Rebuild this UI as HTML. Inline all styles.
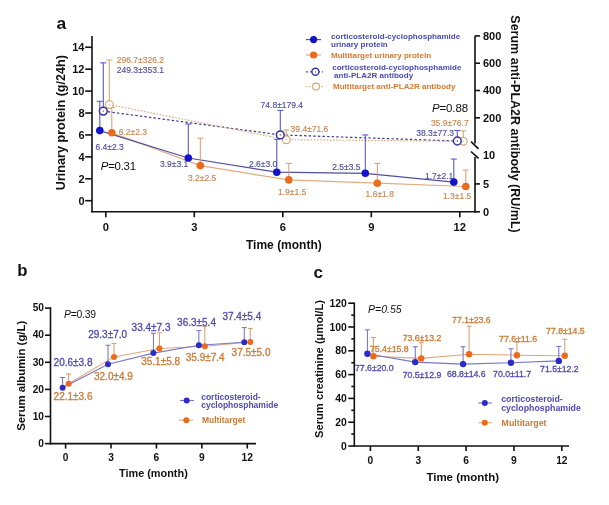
<!DOCTYPE html>
<html><head><meta charset="utf-8"><style>
html,body{margin:0;padding:0;background:#fff;}
svg{display:block;font-family:"Liberation Sans", sans-serif;will-change:transform;}
</style></head><body>
<svg width="609" height="505" viewBox="0 0 609 505">
<rect width="609" height="505" fill="#fff"/>
<text x="56.5" y="28.6" font-size="17.4" fill="#111" text-anchor="start" font-weight="bold" font-style="normal" >a</text>
<line x1="92" y1="36.0" x2="92" y2="212.5" stroke="#111" stroke-width="1.6" />
<line x1="91.2" y1="211.7" x2="475.8" y2="211.7" stroke="#111" stroke-width="1.6" />
<line x1="85.2" y1="200.7" x2="92" y2="200.7" stroke="#111" stroke-width="1.6" />
<text x="84.5" y="204.6" font-size="11" fill="#111" text-anchor="end" font-weight="bold" font-style="normal" >0</text>
<line x1="85.2" y1="178.77999999999997" x2="92" y2="178.77999999999997" stroke="#111" stroke-width="1.6" />
<text x="84.5" y="182.67999999999998" font-size="11" fill="#111" text-anchor="end" font-weight="bold" font-style="normal" >2</text>
<line x1="85.2" y1="156.85999999999999" x2="92" y2="156.85999999999999" stroke="#111" stroke-width="1.6" />
<text x="84.5" y="160.76" font-size="11" fill="#111" text-anchor="end" font-weight="bold" font-style="normal" >4</text>
<line x1="85.2" y1="134.94" x2="92" y2="134.94" stroke="#111" stroke-width="1.6" />
<text x="84.5" y="138.84" font-size="11" fill="#111" text-anchor="end" font-weight="bold" font-style="normal" >6</text>
<line x1="85.2" y1="113.01999999999998" x2="92" y2="113.01999999999998" stroke="#111" stroke-width="1.6" />
<text x="84.5" y="116.91999999999999" font-size="11" fill="#111" text-anchor="end" font-weight="bold" font-style="normal" >8</text>
<line x1="85.2" y1="91.09999999999998" x2="92" y2="91.09999999999998" stroke="#111" stroke-width="1.6" />
<text x="84.5" y="94.99999999999999" font-size="11" fill="#111" text-anchor="end" font-weight="bold" font-style="normal" >10</text>
<line x1="85.2" y1="69.17999999999998" x2="92" y2="69.17999999999998" stroke="#111" stroke-width="1.6" />
<text x="84.5" y="73.07999999999998" font-size="11" fill="#111" text-anchor="end" font-weight="bold" font-style="normal" >12</text>
<line x1="85.2" y1="47.25999999999999" x2="92" y2="47.25999999999999" stroke="#111" stroke-width="1.6" />
<text x="84.5" y="51.15999999999999" font-size="11" fill="#111" text-anchor="end" font-weight="bold" font-style="normal" >14</text>
<line x1="105.8" y1="211.7" x2="105.8" y2="217.2" stroke="#111" stroke-width="1.6" />
<text x="105.8" y="231.3" font-size="11.2" fill="#111" text-anchor="middle" font-weight="bold" font-style="normal" >0</text>
<line x1="194.3" y1="211.7" x2="194.3" y2="217.2" stroke="#111" stroke-width="1.6" />
<text x="194.3" y="231.3" font-size="11.2" fill="#111" text-anchor="middle" font-weight="bold" font-style="normal" >3</text>
<line x1="282.8" y1="211.7" x2="282.8" y2="217.2" stroke="#111" stroke-width="1.6" />
<text x="282.8" y="231.3" font-size="11.2" fill="#111" text-anchor="middle" font-weight="bold" font-style="normal" >6</text>
<line x1="371.3" y1="211.7" x2="371.3" y2="217.2" stroke="#111" stroke-width="1.6" />
<text x="371.3" y="231.3" font-size="11.2" fill="#111" text-anchor="middle" font-weight="bold" font-style="normal" >9</text>
<line x1="459.8" y1="211.7" x2="459.8" y2="217.2" stroke="#111" stroke-width="1.6" />
<text x="459.8" y="231.3" font-size="11.2" fill="#111" text-anchor="middle" font-weight="bold" font-style="normal" >12</text>
<text x="283.9" y="249.0" font-size="12.0" fill="#111" text-anchor="middle" font-weight="bold" font-style="normal" >Time (month)</text>
<line x1="475" y1="35.8" x2="475" y2="143.5" stroke="#111" stroke-width="1.6" />
<line x1="475" y1="157.0" x2="475" y2="212.5" stroke="#111" stroke-width="1.6" />
<line x1="475" y1="35.89999999999999" x2="480" y2="35.89999999999999" stroke="#111" stroke-width="1.6" />
<text x="483" y="39.79999999999999" font-size="11" fill="#111" text-anchor="start" font-weight="bold" font-style="normal" >800</text>
<line x1="475" y1="63.19999999999999" x2="480" y2="63.19999999999999" stroke="#111" stroke-width="1.6" />
<text x="483" y="67.1" font-size="11" fill="#111" text-anchor="start" font-weight="bold" font-style="normal" >600</text>
<line x1="475" y1="90.5" x2="480" y2="90.5" stroke="#111" stroke-width="1.6" />
<text x="483" y="94.4" font-size="11" fill="#111" text-anchor="start" font-weight="bold" font-style="normal" >400</text>
<line x1="475" y1="117.8" x2="480" y2="117.8" stroke="#111" stroke-width="1.6" />
<text x="483" y="121.7" font-size="11" fill="#111" text-anchor="start" font-weight="bold" font-style="normal" >200</text>
<line x1="475" y1="183.9" x2="480" y2="183.9" stroke="#111" stroke-width="1.6" />
<text x="483" y="187.8" font-size="11" fill="#111" text-anchor="start" font-weight="bold" font-style="normal" >5</text>
<line x1="475" y1="211.8" x2="480" y2="211.8" stroke="#111" stroke-width="1.6" />
<text x="483" y="215.70000000000002" font-size="11" fill="#111" text-anchor="start" font-weight="bold" font-style="normal" >0</text>
<text x="483" y="159.4" font-size="11" fill="#111" text-anchor="start" font-weight="bold" font-style="normal" >10</text>
<line x1="471" y1="141.7" x2="478.5" y2="148.9" stroke="#111" stroke-width="1.6" />
<line x1="471" y1="151.5" x2="478.5" y2="158.4" stroke="#111" stroke-width="1.6" />
<text transform="translate(65.2,122.6) rotate(-90)" font-size="12.6" font-weight="bold" text-anchor="middle" fill="#111">Urinary protein (g/24h)</text>
<text transform="translate(511.1,124) rotate(90)" font-size="12.5" font-weight="bold" text-anchor="middle" fill="#111">Serum anti-PLA2R antibody (RU/mL)</text>
<polyline points="103.3,111.1 280.3,134.9 457.3,141.0" fill="none" stroke="#3a3a92" stroke-width="1.2" stroke-dasharray="2.4,2.2"/>
<polyline points="109.3,104.6 286.3,139.7 463.3,141.3" fill="none" stroke="#d8a870" stroke-width="1.1" stroke-dasharray="1.6,1.6"/>
<line x1="109.3" y1="104.60045" x2="109.3" y2="60.07414999999999" stroke="#d8a870" stroke-width="1.1" />
<line x1="106.3" y1="60.07414999999999" x2="112.3" y2="60.07414999999999" stroke="#d8a870" stroke-width="1.1" />
<line x1="286.3" y1="139.7219" x2="286.3" y2="129.9485" stroke="#d8a870" stroke-width="1.1" />
<line x1="283.3" y1="129.9485" x2="289.3" y2="129.9485" stroke="#d8a870" stroke-width="1.1" />
<line x1="463.3" y1="141.29964999999999" x2="463.3" y2="130.8301" stroke="#d8a870" stroke-width="1.1" />
<line x1="460.3" y1="130.8301" x2="466.3" y2="130.8301" stroke="#d8a870" stroke-width="1.1" />
<line x1="103.3" y1="111.07055" x2="103.3" y2="62.87239999999997" stroke="#5a5ac8" stroke-width="1.1" />
<line x1="100.3" y1="62.87239999999997" x2="106.3" y2="62.87239999999997" stroke="#5a5ac8" stroke-width="1.1" />
<line x1="280.3" y1="134.88979999999998" x2="280.3" y2="110.40169999999999" stroke="#5a5ac8" stroke-width="1.1" />
<line x1="277.3" y1="110.40169999999999" x2="283.3" y2="110.40169999999999" stroke="#5a5ac8" stroke-width="1.1" />
<line x1="457.3" y1="140.97205" x2="457.3" y2="130.42059999999998" stroke="#5a5ac8" stroke-width="1.1" />
<line x1="454.3" y1="130.42059999999998" x2="460.3" y2="130.42059999999998" stroke="#5a5ac8" stroke-width="1.1" />
<polyline points="111.8,132.7 200.3,165.6 288.8,179.9 377.3,183.2 465.8,186.5" fill="none" stroke="#e0ac84" stroke-width="1.2" />
<polyline points="99.8,130.6 188.3,158.0 276.8,172.2 365.3,173.3 453.8,182.1" fill="none" stroke="#50509c" stroke-width="1.2" />
<line x1="111.8" y1="132.748" x2="111.8" y2="107.53999999999998" stroke="#dc986e" stroke-width="1.0" />
<line x1="108.8" y1="107.53999999999998" x2="114.8" y2="107.53999999999998" stroke="#dc986e" stroke-width="1.0" />
<line x1="200.3" y1="165.628" x2="200.3" y2="138.22799999999998" stroke="#dc986e" stroke-width="1.0" />
<line x1="197.3" y1="138.22799999999998" x2="203.3" y2="138.22799999999998" stroke="#dc986e" stroke-width="1.0" />
<line x1="288.8" y1="179.87599999999998" x2="288.8" y2="163.43599999999998" stroke="#dc986e" stroke-width="1.0" />
<line x1="285.8" y1="163.43599999999998" x2="291.8" y2="163.43599999999998" stroke="#dc986e" stroke-width="1.0" />
<line x1="377.3" y1="183.164" x2="377.3" y2="163.43599999999998" stroke="#dc986e" stroke-width="1.0" />
<line x1="374.3" y1="163.43599999999998" x2="380.3" y2="163.43599999999998" stroke="#dc986e" stroke-width="1.0" />
<line x1="465.8" y1="186.452" x2="465.8" y2="170.012" stroke="#dc986e" stroke-width="1.0" />
<line x1="462.8" y1="170.012" x2="468.8" y2="170.012" stroke="#dc986e" stroke-width="1.0" />
<line x1="99.8" y1="130.55599999999998" x2="99.8" y2="101.3" stroke="#5a5ac8" stroke-width="1.1" />
<line x1="96.8" y1="101.3" x2="102.8" y2="101.3" stroke="#5a5ac8" stroke-width="1.1" />
<line x1="188.3" y1="157.956" x2="188.3" y2="123.97999999999999" stroke="#5a5ac8" stroke-width="1.1" />
<line x1="185.3" y1="123.97999999999999" x2="191.3" y2="123.97999999999999" stroke="#5a5ac8" stroke-width="1.1" />
<line x1="276.8" y1="172.20399999999998" x2="276.8" y2="139.32399999999998" stroke="#5a5ac8" stroke-width="1.1" />
<line x1="273.8" y1="139.32399999999998" x2="279.8" y2="139.32399999999998" stroke="#5a5ac8" stroke-width="1.1" />
<line x1="365.3" y1="173.29999999999998" x2="365.3" y2="134.94" stroke="#5a5ac8" stroke-width="1.1" />
<line x1="362.3" y1="134.94" x2="368.3" y2="134.94" stroke="#5a5ac8" stroke-width="1.1" />
<line x1="453.8" y1="182.06799999999998" x2="453.8" y2="159.052" stroke="#5a5ac8" stroke-width="1.1" />
<line x1="450.8" y1="159.052" x2="456.8" y2="159.052" stroke="#5a5ac8" stroke-width="1.1" />
<circle cx="99.8" cy="130.6" r="3.8" fill="#1212cc" stroke="none" stroke-width="0"/>
<circle cx="188.3" cy="158.0" r="3.8" fill="#1212cc" stroke="none" stroke-width="0"/>
<circle cx="276.8" cy="172.2" r="3.8" fill="#1212cc" stroke="none" stroke-width="0"/>
<circle cx="365.3" cy="173.3" r="3.8" fill="#1212cc" stroke="none" stroke-width="0"/>
<circle cx="453.8" cy="182.1" r="3.8" fill="#1212cc" stroke="none" stroke-width="0"/>
<circle cx="111.8" cy="132.7" r="3.8" fill="#ec6a1c" stroke="none" stroke-width="0"/>
<circle cx="200.3" cy="165.6" r="3.8" fill="#ec6a1c" stroke="none" stroke-width="0"/>
<circle cx="288.8" cy="179.9" r="3.8" fill="#ec6a1c" stroke="none" stroke-width="0"/>
<circle cx="377.3" cy="183.2" r="3.8" fill="#ec6a1c" stroke="none" stroke-width="0"/>
<circle cx="465.8" cy="186.5" r="3.8" fill="#ec6a1c" stroke="none" stroke-width="0"/>
<circle cx="109.3" cy="104.6" r="3.9" fill="#fff" stroke="#d8a870" stroke-width="1.2"/>
<circle cx="109.3" cy="104.6" r="0.6" fill="#d8a870" stroke="none" stroke-width="0"/>
<circle cx="286.3" cy="139.7" r="3.9" fill="#fff" stroke="#d8a870" stroke-width="1.2"/>
<circle cx="286.3" cy="139.7" r="0.6" fill="#d8a870" stroke="none" stroke-width="0"/>
<circle cx="463.3" cy="141.3" r="3.9" fill="#fff" stroke="#d8a870" stroke-width="1.2"/>
<circle cx="463.3" cy="141.3" r="0.6" fill="#d8a870" stroke="none" stroke-width="0"/>
<circle cx="103.3" cy="111.1" r="3.9" fill="#fff" stroke="#3434a0" stroke-width="1.5"/>
<circle cx="103.3" cy="111.1" r="0.7" fill="#3434a0" stroke="none" stroke-width="0"/>
<circle cx="280.3" cy="134.9" r="3.9" fill="#fff" stroke="#3434a0" stroke-width="1.5"/>
<circle cx="280.3" cy="134.9" r="0.7" fill="#3434a0" stroke="none" stroke-width="0"/>
<circle cx="457.3" cy="141.0" r="3.9" fill="#fff" stroke="#3434a0" stroke-width="1.5"/>
<circle cx="457.3" cy="141.0" r="0.7" fill="#3434a0" stroke="none" stroke-width="0"/>
<text x="116.8" y="63.46" font-size="8.5" fill="#cc8650" text-anchor="start" font-weight="normal" font-style="normal" stroke="#cc8650" stroke-width="0.15">296.7±326.2</text>
<text x="116.8" y="73.36" font-size="8.5" fill="#50509e" text-anchor="start" font-weight="normal" font-style="normal" stroke="#50509e" stroke-width="0.15">249.3±353.1</text>
<text x="95.5" y="150.06" font-size="8.5" fill="#50509e" text-anchor="start" font-weight="normal" font-style="normal" stroke="#50509e" stroke-width="0.15">6.4±2.3</text>
<text x="118.7" y="135.26" font-size="8.5" fill="#cc8650" text-anchor="start" font-weight="normal" font-style="normal" stroke="#cc8650" stroke-width="0.15">6.2±2.3</text>
<text x="160" y="166.96" font-size="8.5" fill="#50509e" text-anchor="start" font-weight="normal" font-style="normal" stroke="#50509e" stroke-width="0.15">3.9±3.1</text>
<text x="188" y="180.76" font-size="8.5" fill="#cc8650" text-anchor="start" font-weight="normal" font-style="normal" stroke="#cc8650" stroke-width="0.15">3.2±2.5</text>
<text x="249" y="166.96" font-size="8.5" fill="#50509e" text-anchor="start" font-weight="normal" font-style="normal" stroke="#50509e" stroke-width="0.15">2.6±3.0</text>
<text x="278" y="194.66" font-size="8.5" fill="#cc8650" text-anchor="start" font-weight="normal" font-style="normal" stroke="#cc8650" stroke-width="0.15">1.9±1.5</text>
<text x="260.6" y="108.46000000000001" font-size="8.5" fill="#50509e" text-anchor="start" font-weight="normal" font-style="normal" stroke="#50509e" stroke-width="0.15">74.8±179.4</text>
<text x="290.6" y="132.26" font-size="8.5" fill="#cc8650" text-anchor="start" font-weight="normal" font-style="normal" stroke="#cc8650" stroke-width="0.15">39.4±71.6</text>
<text x="332.2" y="170.36" font-size="8.5" fill="#50509e" text-anchor="start" font-weight="normal" font-style="normal" stroke="#50509e" stroke-width="0.15">2.5±3.5</text>
<text x="365.6" y="196.66" font-size="8.5" fill="#cc8650" text-anchor="start" font-weight="normal" font-style="normal" stroke="#cc8650" stroke-width="0.15">1.6±1.8</text>
<text x="430.9" y="125.66" font-size="8.5" fill="#cc8650" text-anchor="start" font-weight="normal" font-style="normal" stroke="#cc8650" stroke-width="0.15">35.9±76.7</text>
<text x="416.3" y="135.96" font-size="8.5" fill="#50509e" text-anchor="start" font-weight="normal" font-style="normal" stroke="#50509e" stroke-width="0.15">38.3±77.3</text>
<text x="425" y="178.66" font-size="8.5" fill="#50509e" text-anchor="start" font-weight="normal" font-style="normal" stroke="#50509e" stroke-width="0.15">1.7±2.1</text>
<text x="443" y="198.66" font-size="8.5" fill="#cc8650" text-anchor="start" font-weight="normal" font-style="normal" stroke="#cc8650" stroke-width="0.15">1.3±1.5</text>
<text x="100.8" y="170.4" font-size="11.4" letter-spacing="-0.25" fill="#111"><tspan font-style="italic">P</tspan>=0.31</text>
<text x="432.0" y="112.0" font-size="11.5" letter-spacing="-0.15" fill="#111"><tspan font-style="italic">P</tspan>=0.88</text>
<line x1="306" y1="39.6" x2="321" y2="39.6" stroke="#50509c" stroke-width="1.2" />
<circle cx="313.6" cy="39.6" r="3.6" fill="#1212cc" stroke="none" stroke-width="0"/>
<line x1="306" y1="55" x2="321" y2="55" stroke="#e0ac84" stroke-width="1.2" />
<circle cx="313.6" cy="55.0" r="3.6" fill="#ec6a1c" stroke="none" stroke-width="0"/>
<line x1="306" y1="71.8" x2="323" y2="71.8" stroke="#50509c" stroke-width="1.2" stroke-dasharray="2,2"/>
<circle cx="315.4" cy="71.8" r="3.5" fill="#fff" stroke="#3434a0" stroke-width="1.4"/>
<circle cx="315.4" cy="71.8" r="0.6" fill="#3434a0" stroke="none" stroke-width="0"/>
<line x1="306" y1="86.6" x2="323" y2="86.6" stroke="#d8a870" stroke-width="1.0" stroke-dasharray="1.5,1.5"/>
<circle cx="316.1" cy="86.6" r="3.5" fill="#fff" stroke="#d8a870" stroke-width="1.1"/>
<text x="331" y="38.798" font-size="8.05" fill="#4a4ab8" text-anchor="start" font-weight="bold" font-style="normal" >corticosteroid-cyclophosphamide</text>
<text x="331" y="46.698" font-size="8.05" fill="#4a4ab8" text-anchor="start" font-weight="bold" font-style="normal" >urinary protein</text>
<text x="331" y="57.898" font-size="8.05" fill="#d87a30" text-anchor="start" font-weight="bold" font-style="normal" >Multitarget urinary protein</text>
<text x="332.2" y="70.198" font-size="8.05" fill="#4a4ab8" text-anchor="start" font-weight="bold" font-style="normal" >corticosteroid-cyclophosphamide</text>
<text x="334" y="77.698" font-size="8.05" fill="#4a4ab8" text-anchor="start" font-weight="bold" font-style="normal" >anti-PLA2R antibody</text>
<text x="333" y="89.49799999999999" font-size="8.05" fill="#d87a30" text-anchor="start" font-weight="bold" font-style="normal" >Multitarget anti-PLA2R antibody</text>
<text x="17.2" y="275.8" font-size="16.8" fill="#111" text-anchor="start" font-weight="bold" font-style="normal" >b</text>
<line x1="50.5" y1="307.2" x2="50.5" y2="444.40000000000003" stroke="#111" stroke-width="1.6" />
<line x1="49.7" y1="443.6" x2="256" y2="443.6" stroke="#111" stroke-width="1.6" />
<line x1="45.0" y1="443.6" x2="50.5" y2="443.6" stroke="#111" stroke-width="1.6" />
<text x="44" y="446.8" font-size="10.2" fill="#111" text-anchor="end" font-weight="bold" font-style="normal" >0</text>
<line x1="45.0" y1="416.5" x2="50.5" y2="416.5" stroke="#111" stroke-width="1.6" />
<text x="44" y="419.7" font-size="10.2" fill="#111" text-anchor="end" font-weight="bold" font-style="normal" >10</text>
<line x1="45.0" y1="389.40000000000003" x2="50.5" y2="389.40000000000003" stroke="#111" stroke-width="1.6" />
<text x="44" y="392.6" font-size="10.2" fill="#111" text-anchor="end" font-weight="bold" font-style="normal" >20</text>
<line x1="45.0" y1="362.3" x2="50.5" y2="362.3" stroke="#111" stroke-width="1.6" />
<text x="44" y="365.5" font-size="10.2" fill="#111" text-anchor="end" font-weight="bold" font-style="normal" >30</text>
<line x1="45.0" y1="335.20000000000005" x2="50.5" y2="335.20000000000005" stroke="#111" stroke-width="1.6" />
<text x="44" y="338.40000000000003" font-size="10.2" fill="#111" text-anchor="end" font-weight="bold" font-style="normal" >40</text>
<line x1="45.0" y1="308.1" x2="50.5" y2="308.1" stroke="#111" stroke-width="1.6" />
<text x="44" y="311.3" font-size="10.2" fill="#111" text-anchor="end" font-weight="bold" font-style="normal" >50</text>
<line x1="65.6" y1="443.6" x2="65.6" y2="448.6" stroke="#111" stroke-width="1.6" />
<text x="65.6" y="461.3" font-size="10.2" fill="#111" text-anchor="middle" font-weight="bold" font-style="normal" >0</text>
<line x1="111.02" y1="443.6" x2="111.02" y2="448.6" stroke="#111" stroke-width="1.6" />
<text x="111.02" y="461.3" font-size="10.2" fill="#111" text-anchor="middle" font-weight="bold" font-style="normal" >3</text>
<line x1="156.44" y1="443.6" x2="156.44" y2="448.6" stroke="#111" stroke-width="1.6" />
<text x="156.44" y="461.3" font-size="10.2" fill="#111" text-anchor="middle" font-weight="bold" font-style="normal" >6</text>
<line x1="201.85999999999999" y1="443.6" x2="201.85999999999999" y2="448.6" stroke="#111" stroke-width="1.6" />
<text x="201.85999999999999" y="461.3" font-size="10.2" fill="#111" text-anchor="middle" font-weight="bold" font-style="normal" >9</text>
<line x1="247.28" y1="443.6" x2="247.28" y2="448.6" stroke="#111" stroke-width="1.6" />
<text x="247.28" y="461.3" font-size="10.2" fill="#111" text-anchor="middle" font-weight="bold" font-style="normal" >12</text>
<text x="153.4" y="477.4" font-size="10.9" fill="#111" text-anchor="middle" font-weight="bold" font-style="normal" >Time (month)</text>
<text transform="translate(25.4,375.8) rotate(-90)" font-size="11.4" font-weight="bold" text-anchor="middle" fill="#111">Serum albumin (g/L)</text>
<polyline points="68.6,383.7 114.0,356.9 159.4,348.5 204.9,346.3 250.3,342.0" fill="none" stroke="#e0a878" stroke-width="1.1" />
<polyline points="62.6,387.8 108.0,364.2 153.4,353.1 198.9,345.2 244.3,342.2" fill="none" stroke="#7878c4" stroke-width="1.1" />
<line x1="68.6" y1="383.709" x2="68.6" y2="373.95300000000003" stroke="#d89a68" stroke-width="1.0" />
<line x1="66.1" y1="373.95300000000003" x2="71.1" y2="373.95300000000003" stroke="#d89a68" stroke-width="1.0" />
<line x1="114.02" y1="356.88" x2="114.02" y2="343.601" stroke="#d89a68" stroke-width="1.0" />
<line x1="111.52" y1="343.601" x2="116.52" y2="343.601" stroke="#d89a68" stroke-width="1.0" />
<line x1="159.44" y1="348.47900000000004" x2="159.44" y2="332.761" stroke="#d89a68" stroke-width="1.0" />
<line x1="156.94" y1="332.761" x2="161.94" y2="332.761" stroke="#d89a68" stroke-width="1.0" />
<line x1="204.85999999999999" y1="346.31100000000004" x2="204.85999999999999" y2="326.25700000000006" stroke="#d89a68" stroke-width="1.0" />
<line x1="202.35999999999999" y1="326.25700000000006" x2="207.35999999999999" y2="326.25700000000006" stroke="#d89a68" stroke-width="1.0" />
<line x1="250.28" y1="341.975" x2="250.28" y2="328.425" stroke="#d89a68" stroke-width="1.0" />
<line x1="247.78" y1="328.425" x2="252.78" y2="328.425" stroke="#d89a68" stroke-width="1.0" />
<line x1="62.599999999999994" y1="387.774" x2="62.599999999999994" y2="377.476" stroke="#7070c0" stroke-width="1.0" />
<line x1="60.099999999999994" y1="377.476" x2="65.1" y2="377.476" stroke="#7070c0" stroke-width="1.0" />
<line x1="108.02" y1="364.197" x2="108.02" y2="345.22700000000003" stroke="#7070c0" stroke-width="1.0" />
<line x1="105.52" y1="345.22700000000003" x2="110.52" y2="345.22700000000003" stroke="#7070c0" stroke-width="1.0" />
<line x1="153.44" y1="353.086" x2="153.44" y2="333.30300000000005" stroke="#7070c0" stroke-width="1.0" />
<line x1="150.94" y1="333.30300000000005" x2="155.94" y2="333.30300000000005" stroke="#7070c0" stroke-width="1.0" />
<line x1="198.85999999999999" y1="345.22700000000003" x2="198.85999999999999" y2="330.593" stroke="#7070c0" stroke-width="1.0" />
<line x1="196.35999999999999" y1="330.593" x2="201.35999999999999" y2="330.593" stroke="#7070c0" stroke-width="1.0" />
<line x1="244.28" y1="342.24600000000004" x2="244.28" y2="327.612" stroke="#7070c0" stroke-width="1.0" />
<line x1="241.78" y1="327.612" x2="246.78" y2="327.612" stroke="#7070c0" stroke-width="1.0" />
<circle cx="62.6" cy="387.8" r="3.0" fill="#2c2ac8" stroke="none" stroke-width="0"/>
<circle cx="108.0" cy="364.2" r="3.0" fill="#2c2ac8" stroke="none" stroke-width="0"/>
<circle cx="153.4" cy="353.1" r="3.0" fill="#2c2ac8" stroke="none" stroke-width="0"/>
<circle cx="198.9" cy="345.2" r="3.0" fill="#2c2ac8" stroke="none" stroke-width="0"/>
<circle cx="244.3" cy="342.2" r="3.0" fill="#2c2ac8" stroke="none" stroke-width="0"/>
<circle cx="68.6" cy="383.7" r="3.0" fill="#ec6a1c" stroke="none" stroke-width="0"/>
<circle cx="114.0" cy="356.9" r="3.0" fill="#ec6a1c" stroke="none" stroke-width="0"/>
<circle cx="159.4" cy="348.5" r="3.0" fill="#ec6a1c" stroke="none" stroke-width="0"/>
<circle cx="204.9" cy="346.3" r="3.0" fill="#ec6a1c" stroke="none" stroke-width="0"/>
<circle cx="250.3" cy="342.0" r="3.0" fill="#ec6a1c" stroke="none" stroke-width="0"/>
<text x="53.6" y="365.6" font-size="10" fill="#4e4ab4" text-anchor="start" font-weight="normal" font-style="normal" stroke="#4e4ab4" stroke-width="0.3">20.6±3.8</text>
<text x="53.6" y="400.0" font-size="10" fill="#cc7a34" text-anchor="start" font-weight="normal" font-style="normal" stroke="#cc7a34" stroke-width="0.3">22.1±3.6</text>
<text x="88.2" y="337.6" font-size="10" fill="#4e4ab4" text-anchor="start" font-weight="normal" font-style="normal" stroke="#4e4ab4" stroke-width="0.3">29.3±7.0</text>
<text x="94" y="379.8" font-size="10" fill="#cc7a34" text-anchor="start" font-weight="normal" font-style="normal" stroke="#cc7a34" stroke-width="0.3">32.0±4.9</text>
<text x="131.6" y="331.20000000000005" font-size="10" fill="#4e4ab4" text-anchor="start" font-weight="normal" font-style="normal" stroke="#4e4ab4" stroke-width="0.3">33.4±7.3</text>
<text x="141.2" y="365.20000000000005" font-size="10" fill="#cc7a34" text-anchor="start" font-weight="normal" font-style="normal" stroke="#cc7a34" stroke-width="0.3">35.1±5.8</text>
<text x="177.1" y="325.90000000000003" font-size="10" fill="#4e4ab4" text-anchor="start" font-weight="normal" font-style="normal" stroke="#4e4ab4" stroke-width="0.3">36.3±5.4</text>
<text x="185.8" y="361.3" font-size="10" fill="#cc7a34" text-anchor="start" font-weight="normal" font-style="normal" stroke="#cc7a34" stroke-width="0.3">35.9±7.4</text>
<text x="222.4" y="319.70000000000005" font-size="10" fill="#4e4ab4" text-anchor="start" font-weight="normal" font-style="normal" stroke="#4e4ab4" stroke-width="0.3">37.4±5.4</text>
<text x="231.6" y="356.1" font-size="10" fill="#cc7a34" text-anchor="start" font-weight="normal" font-style="normal" stroke="#cc7a34" stroke-width="0.3">37.5±5.0</text>
<text x="63.9" y="318.2" font-size="10.4" letter-spacing="-0.2" fill="#111"><tspan font-style="italic">P</tspan>=0.39</text>
<line x1="180" y1="400.5" x2="194" y2="400.5" stroke="#7878c4" stroke-width="1.1" />
<circle cx="186.7" cy="400.5" r="3.0" fill="#2c2ac8" stroke="none" stroke-width="0"/>
<line x1="179" y1="420.2" x2="193" y2="420.2" stroke="#e0a878" stroke-width="1.1" />
<circle cx="186.3" cy="420.2" r="3.0" fill="#ec6a1c" stroke="none" stroke-width="0"/>
<text x="201.2" y="399.86" font-size="8.5" fill="#4e4ab4" text-anchor="start" font-weight="bold" font-style="normal" >corticosteroid-</text>
<text x="201.2" y="408.26" font-size="8.5" fill="#4e4ab4" text-anchor="start" font-weight="bold" font-style="normal" >cyclophosphamide</text>
<text x="201.9" y="423.26" font-size="8.5" fill="#cc7a34" text-anchor="start" font-weight="bold" font-style="normal" >Multitarget</text>
<text x="313.4" y="277.5" font-size="17" fill="#111" text-anchor="start" font-weight="bold" font-style="normal" >c</text>
<line x1="354.3" y1="302.5" x2="354.3" y2="446.8" stroke="#111" stroke-width="1.6" />
<line x1="353.5" y1="446" x2="569" y2="446" stroke="#111" stroke-width="1.6" />
<line x1="348.3" y1="446.0" x2="354.3" y2="446.0" stroke="#111" stroke-width="1.6" />
<text x="346.8" y="449.6" font-size="10.4" fill="#111" text-anchor="end" font-weight="bold" font-style="normal" >0</text>
<line x1="351.3" y1="434.1" x2="354.3" y2="434.1" stroke="#111" stroke-width="1.6" />
<line x1="348.3" y1="422.2" x2="354.3" y2="422.2" stroke="#111" stroke-width="1.6" />
<text x="346.8" y="425.8" font-size="10.4" fill="#111" text-anchor="end" font-weight="bold" font-style="normal" >20</text>
<line x1="351.3" y1="410.3" x2="354.3" y2="410.3" stroke="#111" stroke-width="1.6" />
<line x1="348.3" y1="398.4" x2="354.3" y2="398.4" stroke="#111" stroke-width="1.6" />
<text x="346.8" y="402.0" font-size="10.4" fill="#111" text-anchor="end" font-weight="bold" font-style="normal" >40</text>
<line x1="351.3" y1="386.5" x2="354.3" y2="386.5" stroke="#111" stroke-width="1.6" />
<line x1="348.3" y1="374.6" x2="354.3" y2="374.6" stroke="#111" stroke-width="1.6" />
<text x="346.8" y="378.20000000000005" font-size="10.4" fill="#111" text-anchor="end" font-weight="bold" font-style="normal" >60</text>
<line x1="351.3" y1="362.7" x2="354.3" y2="362.7" stroke="#111" stroke-width="1.6" />
<line x1="348.3" y1="350.8" x2="354.3" y2="350.8" stroke="#111" stroke-width="1.6" />
<text x="346.8" y="354.40000000000003" font-size="10.4" fill="#111" text-anchor="end" font-weight="bold" font-style="normal" >80</text>
<line x1="351.3" y1="338.9" x2="354.3" y2="338.9" stroke="#111" stroke-width="1.6" />
<line x1="348.3" y1="327.0" x2="354.3" y2="327.0" stroke="#111" stroke-width="1.6" />
<text x="346.8" y="330.6" font-size="10.4" fill="#111" text-anchor="end" font-weight="bold" font-style="normal" >100</text>
<line x1="351.3" y1="315.1" x2="354.3" y2="315.1" stroke="#111" stroke-width="1.6" />
<line x1="348.3" y1="303.20000000000005" x2="354.3" y2="303.20000000000005" stroke="#111" stroke-width="1.6" />
<text x="346.8" y="306.80000000000007" font-size="10.4" fill="#111" text-anchor="end" font-weight="bold" font-style="normal" >120</text>
<line x1="370.4" y1="446" x2="370.4" y2="451" stroke="#111" stroke-width="1.6" />
<text x="370.4" y="463.8" font-size="10.2" fill="#111" text-anchor="middle" font-weight="bold" font-style="normal" >0</text>
<line x1="418.25" y1="446" x2="418.25" y2="451" stroke="#111" stroke-width="1.6" />
<text x="418.25" y="463.8" font-size="10.2" fill="#111" text-anchor="middle" font-weight="bold" font-style="normal" >3</text>
<line x1="466.09999999999997" y1="446" x2="466.09999999999997" y2="451" stroke="#111" stroke-width="1.6" />
<text x="466.09999999999997" y="463.8" font-size="10.2" fill="#111" text-anchor="middle" font-weight="bold" font-style="normal" >6</text>
<line x1="513.9499999999999" y1="446" x2="513.9499999999999" y2="451" stroke="#111" stroke-width="1.6" />
<text x="513.9499999999999" y="463.8" font-size="10.2" fill="#111" text-anchor="middle" font-weight="bold" font-style="normal" >9</text>
<line x1="561.8" y1="446" x2="561.8" y2="451" stroke="#111" stroke-width="1.6" />
<text x="561.8" y="463.8" font-size="10.2" fill="#111" text-anchor="middle" font-weight="bold" font-style="normal" >12</text>
<text x="462.7" y="481" font-size="11.5" fill="#111" text-anchor="middle" font-weight="bold" font-style="normal" >Time (month)</text>
<text transform="translate(322.5,369) rotate(-90)" font-size="11.2" font-weight="bold" text-anchor="middle" fill="#111">Serum creatinine (μmol/L)</text>
<polyline points="373.4,356.3 421.2,358.4 469.1,354.3 516.9,355.2 564.8,355.8" fill="none" stroke="#e0a878" stroke-width="1.1" />
<polyline points="367.4,353.7 415.2,362.1 463.1,364.1 510.9,362.7 558.8,360.9" fill="none" stroke="#7878c4" stroke-width="1.1" />
<line x1="373.4" y1="356.274" x2="373.4" y2="337.472" stroke="#d89a68" stroke-width="1.0" />
<line x1="370.9" y1="337.472" x2="375.9" y2="337.472" stroke="#d89a68" stroke-width="1.0" />
<line x1="421.25" y1="358.416" x2="421.25" y2="342.708" stroke="#d89a68" stroke-width="1.0" />
<line x1="418.75" y1="342.708" x2="423.75" y2="342.708" stroke="#d89a68" stroke-width="1.0" />
<line x1="469.09999999999997" y1="354.251" x2="469.09999999999997" y2="326.16700000000003" stroke="#d89a68" stroke-width="1.0" />
<line x1="466.59999999999997" y1="326.16700000000003" x2="471.59999999999997" y2="326.16700000000003" stroke="#d89a68" stroke-width="1.0" />
<line x1="516.9499999999999" y1="355.203" x2="516.9499999999999" y2="341.994" stroke="#d89a68" stroke-width="1.0" />
<line x1="514.4499999999999" y1="341.994" x2="519.4499999999999" y2="341.994" stroke="#d89a68" stroke-width="1.0" />
<line x1="564.8" y1="355.798" x2="564.8" y2="339.257" stroke="#d89a68" stroke-width="1.0" />
<line x1="562.3" y1="339.257" x2="567.3" y2="339.257" stroke="#d89a68" stroke-width="1.0" />
<line x1="367.4" y1="353.656" x2="367.4" y2="329.856" stroke="#7070c0" stroke-width="1.0" />
<line x1="364.9" y1="329.856" x2="369.9" y2="329.856" stroke="#7070c0" stroke-width="1.0" />
<line x1="415.25" y1="362.105" x2="415.25" y2="346.754" stroke="#7070c0" stroke-width="1.0" />
<line x1="412.75" y1="346.754" x2="417.75" y2="346.754" stroke="#7070c0" stroke-width="1.0" />
<line x1="463.09999999999997" y1="364.128" x2="463.09999999999997" y2="346.754" stroke="#7070c0" stroke-width="1.0" />
<line x1="460.59999999999997" y1="346.754" x2="465.59999999999997" y2="346.754" stroke="#7070c0" stroke-width="1.0" />
<line x1="510.94999999999993" y1="362.7" x2="510.94999999999993" y2="348.777" stroke="#7070c0" stroke-width="1.0" />
<line x1="508.44999999999993" y1="348.777" x2="513.4499999999999" y2="348.777" stroke="#7070c0" stroke-width="1.0" />
<line x1="558.8" y1="360.915" x2="558.8" y2="346.397" stroke="#7070c0" stroke-width="1.0" />
<line x1="556.3" y1="346.397" x2="561.3" y2="346.397" stroke="#7070c0" stroke-width="1.0" />
<circle cx="367.4" cy="353.7" r="3.2" fill="#2c2ac8" stroke="none" stroke-width="0"/>
<circle cx="415.2" cy="362.1" r="3.2" fill="#2c2ac8" stroke="none" stroke-width="0"/>
<circle cx="463.1" cy="364.1" r="3.2" fill="#2c2ac8" stroke="none" stroke-width="0"/>
<circle cx="510.9" cy="362.7" r="3.2" fill="#2c2ac8" stroke="none" stroke-width="0"/>
<circle cx="558.8" cy="360.9" r="3.2" fill="#2c2ac8" stroke="none" stroke-width="0"/>
<circle cx="373.4" cy="356.3" r="3.2" fill="#ec6a1c" stroke="none" stroke-width="0"/>
<circle cx="421.2" cy="358.4" r="3.2" fill="#ec6a1c" stroke="none" stroke-width="0"/>
<circle cx="469.1" cy="354.3" r="3.2" fill="#ec6a1c" stroke="none" stroke-width="0"/>
<circle cx="516.9" cy="355.2" r="3.2" fill="#ec6a1c" stroke="none" stroke-width="0"/>
<circle cx="564.8" cy="355.8" r="3.2" fill="#ec6a1c" stroke="none" stroke-width="0"/>
<text x="355" y="371.432" font-size="8.7" fill="#4e4ab4" text-anchor="start" font-weight="normal" font-style="normal" stroke="#4e4ab4" stroke-width="0.3">77.6±20.0</text>
<text x="370" y="352.132" font-size="8.7" fill="#cc7a34" text-anchor="start" font-weight="normal" font-style="normal" stroke="#cc7a34" stroke-width="0.3">75.4±15.8</text>
<text x="402.7" y="377.932" font-size="8.7" fill="#4e4ab4" text-anchor="start" font-weight="normal" font-style="normal" stroke="#4e4ab4" stroke-width="0.3">70.5±12.9</text>
<text x="402.7" y="341.032" font-size="8.7" fill="#cc7a34" text-anchor="start" font-weight="normal" font-style="normal" stroke="#cc7a34" stroke-width="0.3">73.6±13.2</text>
<text x="447" y="377.032" font-size="8.7" fill="#4e4ab4" text-anchor="start" font-weight="normal" font-style="normal" stroke="#4e4ab4" stroke-width="0.3">68.8±14.6</text>
<text x="452.1" y="322.732" font-size="8.7" fill="#cc7a34" text-anchor="start" font-weight="normal" font-style="normal" stroke="#cc7a34" stroke-width="0.3">77.1±23.6</text>
<text x="493.1" y="377.032" font-size="8.7" fill="#4e4ab4" text-anchor="start" font-weight="normal" font-style="normal" stroke="#4e4ab4" stroke-width="0.3">70.0±11.7</text>
<text x="499.1" y="341.732" font-size="8.7" fill="#cc7a34" text-anchor="start" font-weight="normal" font-style="normal" stroke="#cc7a34" stroke-width="0.3">77.6±11.6</text>
<text x="540.1" y="371.832" font-size="8.7" fill="#4e4ab4" text-anchor="start" font-weight="normal" font-style="normal" stroke="#4e4ab4" stroke-width="0.3">71.5±12.2</text>
<text x="546.1" y="334.432" font-size="8.7" fill="#cc7a34" text-anchor="start" font-weight="normal" font-style="normal" stroke="#cc7a34" stroke-width="0.3">77.8±14.5</text>
<text x="368" y="313.2" font-size="10.5" fill="#111" font-style="italic">P=0.55</text>
<line x1="478.2" y1="403.0" x2="492.2" y2="403.0" stroke="#7878c4" stroke-width="1.1" />
<circle cx="484.8" cy="403.0" r="3.0" fill="#2c2ac8" stroke="none" stroke-width="0"/>
<line x1="478.2" y1="422.8" x2="492.2" y2="422.8" stroke="#e0a878" stroke-width="1.1" />
<circle cx="484.8" cy="422.8" r="3.0" fill="#ec6a1c" stroke="none" stroke-width="0"/>
<text x="501.2" y="402.368" font-size="8.8" fill="#4e4ab4" text-anchor="start" font-weight="bold" font-style="normal" >corticosteroid-</text>
<text x="501.2" y="411.168" font-size="8.8" fill="#4e4ab4" text-anchor="start" font-weight="bold" font-style="normal" >cyclophosphamide</text>
<text x="501.6" y="425.968" font-size="8.8" fill="#cc7a34" text-anchor="start" font-weight="bold" font-style="normal" >Multitarget</text>
</svg>
</body></html>
